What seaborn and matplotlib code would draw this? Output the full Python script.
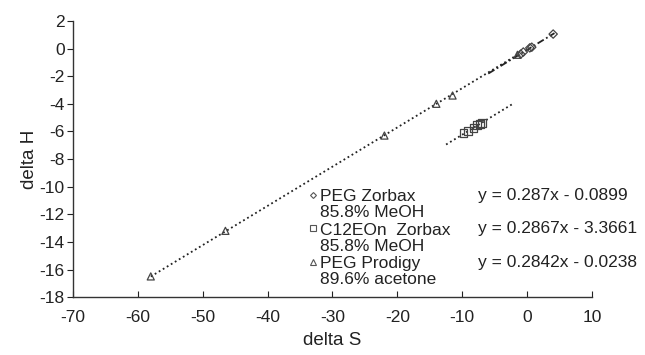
import numpy as np
import pandas as pd
import seaborn as sns
import matplotlib
matplotlib.use("Agg")
import matplotlib.pyplot as plt
from matplotlib.lines import Line2D
from matplotlib.legend_handler import HandlerLine2D

# --- data ---------------------------------------------------------------
peg_zorbax_dS = [-1.0, -0.6, 0.4, 0.7, 4.0]
peg_zorbax_dH = [-0.4, -0.25, 0.05, 0.1, 1.05]

c12_zorbax_dS = [-9.8, -9.1, -8.3, -7.7, -7.3, -7.0]
c12_zorbax_dH = [-6.1, -5.95, -5.75, -5.55, -5.45, -5.4]

peg_prodigy_dS = [-58.0, -46.5, -22.0, -14.0, -11.5, -1.5]
peg_prodigy_dH = [-16.5, -13.2, -6.3, -4.0, -3.4, -0.45]

series_names = ["PEG Zorbax", "C12EOn  Zorbax", "PEG Prodigy"]
series_conditions = ["85.8% MeOH", "85.8% MeOH", "89.6% acetone"]

# linear trend lines: slope, intercept and the dS span they cover
fit_slopes = [0.287, 0.2867, 0.2842]
fit_intercepts = [-0.0899, -3.3661, -0.0238]
fit_spans = [(-6.0, 4.2), (-12.5, -2.0), (-58.0, -1.5)]

x_ticks = list(range(-70, 11, 10))
y_ticks = list(range(-18, 3, 2))

# --- styling ------------------------------------------------------------
sns.set_theme(style="white")
plt.rcParams["font.family"] = ["Liberation Sans", "DejaVu Sans"]
plt.rcParams["axes.unicode_minus"] = False

markers = ["D", "s", "^"]
marker_sizes = [18, 30, 26]
line_styles = [(0, (4, 1.5, 1, 1.5)), (0, (1, 1.6)), (0, (1, 1.6))]
ink = "#222222"

fig = plt.figure(figsize=(6.45, 3.55), dpi=100)
ax = fig.add_axes([0.113, 0.163, 0.805, 0.778])

frames = []
for name, xs, ys in zip(series_names,
                        [peg_zorbax_dS, c12_zorbax_dS, peg_prodigy_dS],
                        [peg_zorbax_dH, c12_zorbax_dH, peg_prodigy_dH]):
    frames.append(pd.DataFrame({"dS": xs, "dH": ys, "series": name}))
df = pd.concat(frames, ignore_index=True)

# trend lines
for slope, icpt, (x0, x1), ls in zip(fit_slopes, fit_intercepts, fit_spans, line_styles):
    fx = np.array([x0, x1])
    sns.lineplot(x=fx, y=slope * fx + icpt, ax=ax, color="#222222",
                 linewidth=1.3, linestyle=ls, legend=False, zorder=2)

# hollow markers
for name, mk, ms in zip(series_names, markers, marker_sizes):
    sub = df[df["series"] == name]
    sns.scatterplot(data=sub, x="dS", y="dH", marker=mk, s=ms, ax=ax,
                    facecolor="none", edgecolor="#444444", linewidth=0.9,
                    legend=False, zorder=3)
for coll in ax.collections:
    coll.set_facecolor("none")

ax.set_xlim(-70, 10)
ax.set_ylim(-18, 2)
ax.set_xticks(x_ticks)
ax.set_yticks(y_ticks)
ax.tick_params(axis="both", labelsize=12.5, colors=ink, length=4, width=0.8,
               left=True, bottom=True)
ax.tick_params(axis="x", direction="in", pad=9)
ax.tick_params(axis="y", direction="out", pad=2)
for side in ["top", "right"]:
    ax.spines[side].set_visible(False)
for side in ["left", "bottom"]:
    ax.spines[side].set_color("#333333")
    ax.spines[side].set_linewidth(1.0)
ax.set_xlabel("delta S", fontsize=13.5, color=ink, labelpad=5)
ax.set_ylabel("delta H", fontsize=13.5, color=ink, labelpad=1)


class FirstLineHandler(HandlerLine2D):
    """Place the legend key next to the first line of a two-line label."""
    def create_artists(self, legend, orig_handle, xdescent, ydescent,
                       width, height, fontsize, trans):
        arts = super().create_artists(legend, orig_handle, xdescent, ydescent,
                                      width, height, fontsize, trans)
        for a in arts:
            a.set_ydata(np.asarray(a.get_ydata()) + 0.55 * fontsize)
        return arts


handles = [Line2D([], [], linestyle="none", marker=mk, markersize=ksz,
                  markerfacecolor="none", markeredgecolor="#555555",
                  markeredgewidth=0.8)
           for mk, ksz in zip(markers, [3, 4, 4])]
labels = [f"{n}\n{c}" for n, c in zip(series_names, series_conditions)]
leg = ax.legend(handles, labels, loc="upper left",
                bbox_to_anchor=(309 / 645, 1 - 189 / 355),
                bbox_transform=fig.transFigure, frameon=False,
                fontsize=12.5, handlelength=0.5, handletextpad=0.15,
                labelspacing=0.15, borderpad=0, borderaxespad=0,
                handler_map={Line2D: FirstLineHandler()})
for t in leg.get_texts():
    t.set_color(ink)
    t.set_linespacing(1.08)

# regression equations beside the legend entries
eq_rows = [195, 229, 263]
for slope, icpt, row in zip(fit_slopes, fit_intercepts, eq_rows):
    sign = "-" if icpt < 0 else "+"
    fig.text(478 / 645, 1 - row / 355, f"y = {slope:g}x {sign} {abs(icpt):g}",
             fontsize=12.5, color=ink, va="center", ha="left")

fig.savefig("out.png", dpi=100, facecolor="white")
